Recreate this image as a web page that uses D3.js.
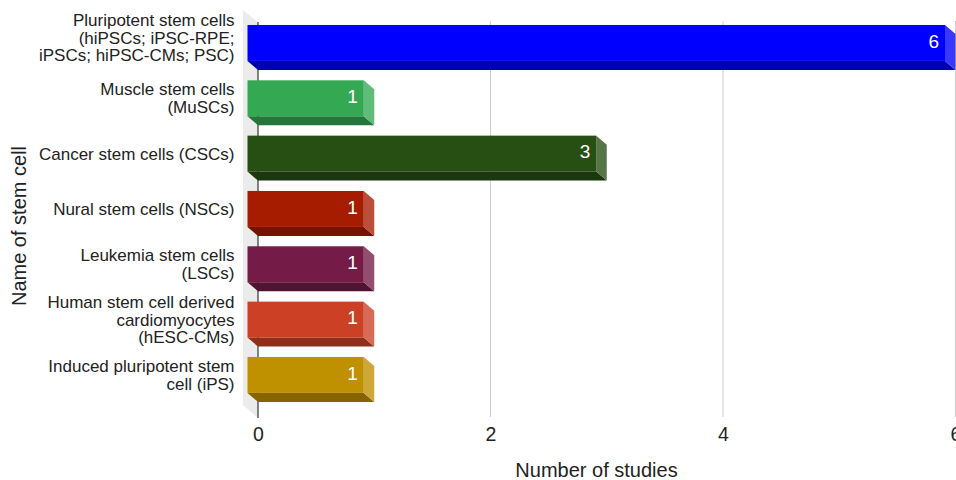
<!DOCTYPE html>
<html>
<head>
<meta charset="utf-8">
<script src="https://cdn.jsdelivr.net/npm/d3@7"></script>
<style>
  html, body { margin: 0; padding: 0; background: #fff; }
  svg { display: block; font-family: "Liberation Sans", Arial, Helvetica, sans-serif; }
</style>
</head>
<body>
<svg id="chart" width="956" height="480"></svg>
<script>
// Stem cell types and the number of studies for each
const categories = [
  "Pluripotent stem cells (hiPSCs; iPSC-RPE; iPSCs; hiPSC-CMs; PSC)",
  "Muscle stem cells (MuSCs)",
  "Cancer stem cells (CSCs)",
  "Nural stem cells (NSCs)",
  "Leukemia stem cells (LSCs)",
  "Human stem cell derived cardiomyocytes (hESC-CMs)",
  "Induced pluripotent stem cell (iPS)"
];
const categoryLines = [
  ["Pluripotent stem cells", "(hiPSCs; iPSC-RPE;", "iPSCs; hiPSC-CMs; PSC)"],
  ["Muscle stem cells", "(MuSCs)"],
  ["Cancer stem cells (CSCs)"],
  ["Nural stem cells (NSCs)"],
  ["Leukemia stem cells", "(LSCs)"],
  ["Human stem cell derived", "cardiomyocytes", "(hESC-CMs)"],
  ["Induced pluripotent stem", "cell (iPS)"]
];
const studies = [6, 1, 3, 1, 1, 1, 1];
const xTicks = [0, 2, 4, 6];
const barColors = ["#0000ff", "#34a853", "#274e13", "#a61c00", "#741b47", "#cc4125", "#bf9000"];

const svg = d3.select("#chart");

// 3D projection: the front face sits up-left of the back plane
const DX = 10.5, DY = 9;

// scales live on the back plane
const x = d3.scaleLinear().domain([0, 6]).range([258, 955.5]);
const y = d3.scaleBand()
  .domain(categories)
  .range([24.3, 411.6])
  .paddingInner(0.35)
  .paddingOuter(0.175);

const gridTop = 21, gridBottom = 417;

// side wall behind the category axis
svg.append("polygon")
  .attr("points", [
    [x(0) - 15, gridTop - 11], [x(0), gridTop + 1],
    [x(0), gridBottom + 1], [x(0) - 15, gridBottom - 12]
  ].map(p => p.join(",")).join(" "))
  .attr("fill", "#ebebeb");

// vertical gridlines
svg.append("g")
  .selectAll("line")
  .data(xTicks.filter(t => t > 0))
  .join("line")
  .attr("x1", d => x(d)).attr("x2", d => x(d))
  .attr("y1", gridTop).attr("y2", gridBottom)
  .attr("stroke", "#cccccc")
  .attr("stroke-width", 1);

// baseline at zero
svg.append("line")
  .attr("x1", x(0)).attr("x2", x(0))
  .attr("y1", gridTop + 1).attr("y2", gridBottom + 1)
  .attr("stroke", "#333333")
  .attr("stroke-width", 1.2);

// bars
const rows = categories.map((c, i) => ({ c, v: studies[i], color: barColors[i], lines: categoryLines[i] }));
const bw = y.bandwidth();

const bars = svg.append("g").selectAll("g").data(rows).join("g");

const pts = arr => arr.map(p => p.join(",")).join(" ");

// bottom face
bars.append("polygon")
  .attr("points", d => {
    const x0 = x(0), x1 = x(d.v), yb = y(d.c) + bw;
    return pts([[x0 - DX, yb - DY], [x1 - DX, yb - DY], [x1, yb], [x0, yb]]);
  })
  .attr("fill", d => d3.color(d.color).darker(1).formatHex());

// right face
bars.append("polygon")
  .attr("points", d => {
    const x1 = x(d.v), yt = y(d.c), yb = yt + bw;
    return pts([[x1 - DX, yt - DY], [x1, yt], [x1, yb], [x1 - DX, yb - DY]]);
  })
  .attr("fill", d => d3.interpolateRgb(d.color, "#ffffff")(0.22));

// front face
bars.append("rect")
  .attr("x", x(0) - DX)
  .attr("y", d => y(d.c) - DY)
  .attr("width", d => x(d.v) - x(0))
  .attr("height", bw)
  .attr("fill", d => d.color);

// value labels inside the bar ends
bars.append("text")
  .attr("x", d => x(d.v) - DX - 6)
  .attr("y", d => y(d.c) - DY + bw / 2 - 2)
  .attr("dy", "0.35em")
  .attr("text-anchor", "end")
  .attr("fill", "#ffffff")
  .attr("font-size", 19)
  .text(d => d.v);

// category labels, wrapped lines centred on each bar;
// a tall label on the first row is kept from crowding the top edge
const LH = 17.5;
const labelCenter = d => {
  const c = y(d.c) - DY + bw / 2;
  return d.lines.length > 2 && y(d.c) < 60 ? c - 5 : c;
};
const catLabels = svg.append("g").selectAll("text").data(rows).join("text")
  .attr("text-anchor", "end")
  .attr("fill", "#222222")
  .attr("font-size", 17)
  .attr("y", d => labelCenter(d) - (d.lines.length - 1) * LH / 2);
catLabels.selectAll("tspan")
  .data(d => d.lines)
  .join("tspan")
  .attr("x", 234.5)
  .attr("dy", (l, i) => i === 0 ? "0.35em" : LH)
  .text(l => l);

// bottom axis tick labels
const axis = svg.append("g")
  .attr("transform", `translate(0,${gridBottom + 1})`)
  .call(d3.axisBottom(x).tickValues(xTicks).tickSize(0).tickPadding(9).tickFormat(d3.format("d")));
axis.select(".domain").remove();
axis.selectAll("text")
  .attr("font-size", 19.5)
  .attr("fill", "#222222")
  .attr("font-family", "\"Liberation Sans\", Arial, Helvetica, sans-serif");

// axis titles
svg.append("text")
  .attr("x", 596.5)
  .attr("y", 477)
  .attr("text-anchor", "middle")
  .attr("font-size", 20)
  .attr("fill", "#222222")
  .text("Number of studies");

svg.append("text")
  .attr("transform", "translate(26,226) rotate(-90)")
  .attr("text-anchor", "middle")
  .attr("font-size", 20)
  .attr("fill", "#222222")
  .text("Name of stem cell");
</script>
</body>
</html>
